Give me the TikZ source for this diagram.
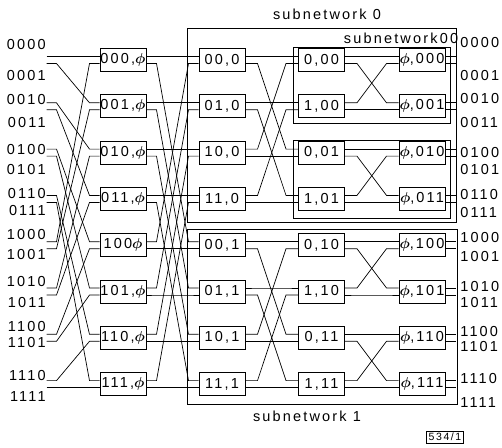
\documentclass[tikz,border=0pt]{standalone}
\usepackage{fontspec}
\setmainfont{Liberation Sans}[LetterSpace=15]
\usetikzlibrary{calc}
\newcommand\phz{{\boldmath$\phi$}}

\begin{document}
\begin{tikzpicture}[x=1pt,y=-1pt,font=\fontsize{14.5}{16}\selectfont,line width=0.7pt,
  sw/.style={draw,line width=1pt,minimum width=46pt,minimum height=23pt,inner sep=0pt},
  net/.style={draw,line width=0.8pt},
  wire/.style={to path={-- ++(#1,0) -- ($(\tikztotarget)+(-#1,0)$) -- (\tikztotarget)}},
  wire/.default=10]
  \useasboundingbox (0,0) rectangle (502,447);
  % subnetwork frames
  \draw[net] (187,28) rectangle (456,222);
  \draw[net] (293,47) rectangle (450,123);
  \draw[net] (293,140) rectangle (450,218);
  \draw[net] (187,229) rectangle (457,404);
  \node (sub0) at (327,14) {subnetwork 0};
  \node (sub00) at (401,38) {subnetwork00};
  \node (sub1) at (307,416) {subnetwork 1};
  % switches, four stages
  \foreach \j/\a/\b/\c/\d in {0/{000,\phz}/{00,0}/{0,00}/{\phz,000},
      1/{001,\phz}/{01,0}/{1,00}/{\phz,001}, 2/{010,\phz}/{10,0}/{0,01}/{\phz,010},
      3/{011,\phz}/{11,0}/{1,01}/{\phz,011}, 4/{100\phz}/{00,1}/{0,10}/{\phz,100},
      5/{101,\phz}/{01,1}/{1,10}/{\phz,101}, 6/{110,\phz}/{10,1}/{0,11}/{\phz,110},
      7/{111,\phz}/{11,1}/{1,11}/{\phz,111}}{
    \pgfmathsetmacro\y{60+46.3*\j}
    \node[sw] (s1-\j) at (123,\y) {\a};
    \node[sw] (s2-\j) at (222,\y) {\b};
    \node[sw] (s3-\j) at (321.5,\y) {\c};
    \node[sw] (s4-\j) at (422,\y) {\d};
  }
  % ports
  \foreach \k in {1,...,4}
    \foreach \j in {0,...,7}{
      \coordinate (s\k-\j-i0) at ($(s\k-\j.west)+(0,-3.5)$);
      \coordinate (s\k-\j-i1) at ($(s\k-\j.west)+(0,3.5)$);
      \coordinate (s\k-\j-o0) at ($(s\k-\j.east)+(0,-3.5)$);
      \coordinate (s\k-\j-o1) at ($(s\k-\j.east)+(0,3.5)$);
    }
  % terminals and their labels
  \foreach \i/\ly/\ry/\txt in {0/45/43/0000, 1/76/76/0001, 2/100/99/0010, 3/123/123/0011,
      4/150/153/0100, 5/170/170/0101, 6/194/195/0110, 7/211/213/0111,
      8/235/238/1000, 9/255/257/1001, 10/282/287/1010, 11/303/303/1011,
      12/327/332/1100, 13/343/347/1101, 14/376/378/1110, 15/397/403/1111}{
    \pgfmathtruncatemacro\r{div(\i,2)}
    \pgfmathtruncatemacro\p{mod(\i,2)}
    \pgfmathtruncatemacro\t{mod(\i,8)}
    \pgfmathtruncatemacro\q{div(\i,8)}
    \coordinate (in-\i) at ($(s1-\r-i\p)+(-53,0)$);
    \coordinate (out-\i) at ($(s4-\r-o\p)+(10,0)$);
    \node[anchor=east,inner sep=1pt] (inl-\i) at (47,\ly) {\txt};
    \node[anchor=west,inner sep=1pt] (outl-\i) at (459,\ry) {\txt};
    \draw (in-\i) to[wire] (s1-\t-i\q);
    \draw (s4-\r-o\p) -- (out-\i);
  }
  % links between stages
  \foreach \j in {0,...,7}
    \foreach \p in {0,1}{
      \pgfmathtruncatemacro\ta{4*\p+mod(\j,4)}
      \pgfmathtruncatemacro\qa{div(\j,4)}
      \pgfmathtruncatemacro\tb{4*div(\j,4)+2*\p+mod(\j,2)}
      \pgfmathtruncatemacro\qb{div(mod(\j,4),2)}
      \pgfmathtruncatemacro\tc{2*div(\j,2)+\p}
      \pgfmathtruncatemacro\qc{mod(\j,2)}
      \draw (s1-\j-o\p) to[wire] (s2-\ta-i\qa);
      \draw (s2-\j-o\p) to[wire=12] (s3-\tb-i\qb);
      \draw (s3-\j-o\p) to[wire=12] (s4-\tc-i\qc);
    }
  \node[draw,inner sep=2pt,font=\fontsize{10.5}{12}\selectfont] (fig) at (445,437) {534/1};
\end{tikzpicture}
\end{document}
